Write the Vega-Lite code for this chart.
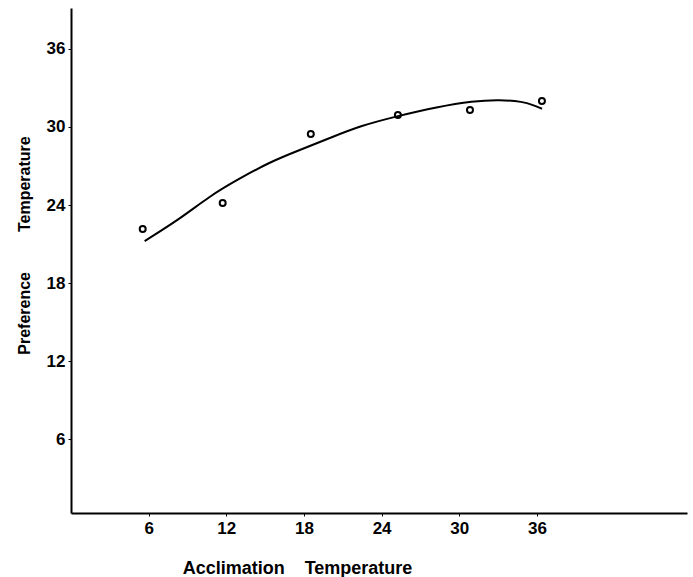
{
  "$schema": "https://vega.github.io/schema/vega-lite/v6.json",
  "width": 616,
  "height": 505,
  "autosize": {"type": "none"},
  "padding": {"left": 71, "top": 8, "right": 6, "bottom": 64},
  "background": "white",
  "config": {
    "view": {"stroke": null},
    "font": "Liberation Sans",
    "axis": {
      "grid": false,
      "domainColor": "black",
      "domainWidth": 2,
      "tickColor": "black",
      "tickSize": 3,
      "tickWidth": 1,
      "labelFont": "Liberation Sans",
      "labelFontWeight": "bold",
      "labelFontSize": 17,
      "labelColor": "black",
      "titleFont": "Liberation Sans",
      "titleFontWeight": "bold",
      "titleColor": "black"
    }
  },
  "layer": [
    {
      "data": {"values": [
        {"x": 5.69, "y": 21.23},
        {"x": 8.4, "y": 22.92},
        {"x": 10.72, "y": 24.69},
        {"x": 12.81, "y": 25.92},
        {"x": 15.36, "y": 27.31},
        {"x": 17.68, "y": 28.23},
        {"x": 20.0, "y": 29.15},
        {"x": 22.32, "y": 30.08},
        {"x": 25.26, "y": 30.85},
        {"x": 28.28, "y": 31.54},
        {"x": 31.06, "y": 32.0},
        {"x": 33.15, "y": 32.1},
        {"x": 34.93, "y": 31.95},
        {"x": 35.7, "y": 31.69},
        {"x": 36.4, "y": 31.4}
      ]},
      "mark": {"type": "line", "color": "black", "strokeWidth": 2, "interpolate": "basis"},
      "encoding": {
        "x": {"field": "x", "type": "quantitative", "scale": {"domain": [0, 47.6], "nice": false, "zero": false},
          "axis": {"values": [6, 12, 18, 24, 30, 36], "labelPadding": 4,
            "title": "Acclimation\u00a0\u00a0\u00a0\u00a0Temperature", "titleFontSize": 18,
            "titlePadding": 23, "titleX": 226, "titleAlign": "center"}},
        "y": {"field": "y", "type": "quantitative", "scale": {"domain": [0.32, 39.15], "nice": false, "zero": false},
          "axis": {"values": [6, 12, 18, 24, 30, 36], "labelPadding": 3,
            "title": "Preference\u00a0\u00a0\u00a0\u00a0\u00a0\u00a0\u00a0\u00a0\u00a0Temperature", "titleFontSize": 16,
            "titlePadding": 14, "titleY": 237, "titleAlign": "center"}}
      }
    },
    {
      "data": {"values": [
        {"x": 5.54, "y": 22.15},
        {"x": 11.72, "y": 24.15},
        {"x": 18.53, "y": 29.46},
        {"x": 25.26, "y": 30.92},
        {"x": 30.83, "y": 31.31},
        {"x": 36.39, "y": 32.0}
      ]},
      "mark": {"type": "point", "shape": "circle", "filled": false, "color": "black", "opacity": 1, "strokeWidth": 2, "size": 36},
      "encoding": {
        "x": {"field": "x", "type": "quantitative"},
        "y": {"field": "y", "type": "quantitative"}
      }
    }
  ]
}
